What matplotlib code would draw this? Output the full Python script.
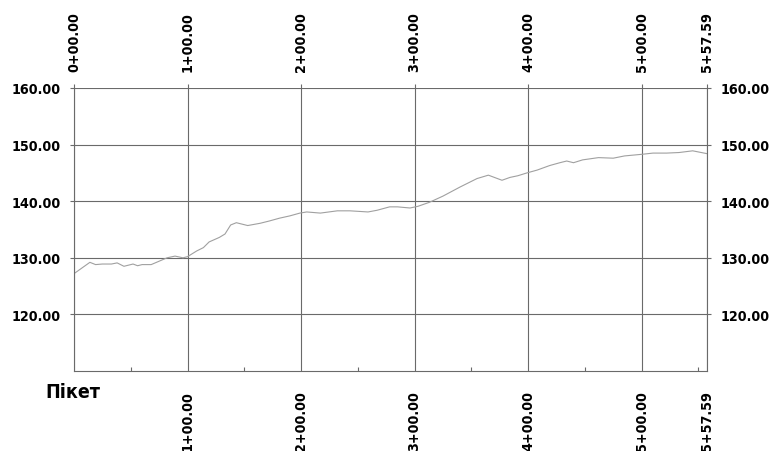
import numpy as np
import matplotlib
matplotlib.use("Agg")
import matplotlib.pyplot as plt
from matplotlib import font_manager

# longitudinal profile: chainage (m) vs ground elevation (m)
dist = [0, 7, 14, 19, 25, 33, 38, 44, 52, 56, 60, 68, 75, 82, 89, 96, 100,
        108, 114, 119, 128, 133, 138, 143, 153, 164, 172, 181, 190, 199, 205,
        217, 232, 243, 259, 267, 278, 285, 296, 303, 313, 325, 340, 355, 365,
        377, 384, 391, 399, 408, 419, 428, 434, 440, 448, 462, 475, 485, 501,
        510, 522, 533, 545, 557.59]
elev = [127.2, 128.2, 129.2, 128.8, 128.9, 128.9, 129.1, 128.5, 128.9, 128.6,
        128.8, 128.8, 129.4, 130.0, 130.3, 130.0, 130.2, 131.2, 131.8, 132.8,
        133.6, 134.2, 135.8, 136.2, 135.7, 136.1, 136.5, 137.0, 137.4, 137.9,
        138.1, 137.9, 138.3, 138.3, 138.1, 138.4, 139.0, 139.0, 138.8, 139.1,
        139.8, 140.9, 142.5, 144.0, 144.6, 143.7, 144.2, 144.5, 145.0, 145.5,
        146.3, 146.8, 147.1, 146.8, 147.3, 147.7, 147.6, 148.0, 148.3, 148.5,
        148.5, 148.6, 148.9, 148.4]

stations = [0, 100, 200, 300, 400, 500, 557.59]
station_labels = ["0+00.00", "1+00.00", "2+00.00", "3+00.00", "4+00.00",
                  "5+00.00", "5+57.59"]
levels = [120, 130, 140, 150, 160]
level_labels = ["%.2f" % v for v in levels]


def narrow_font():
    # look for a condensed sans face, else fall back to plain DejaVu
    cands = []
    for f in font_manager.fontManager.ttflist:
        nm = f.name.lower()
        fn = f.fname.lower()
        if ("cond" in fn or "narrow" in fn or "cond" in nm or "narrow" in nm
                or f.stretch in ("condensed", "semi-condensed")):
            if "mono" in fn or "serif" in fn and "sans" not in fn:
                continue
            if "italic" in fn or "oblique" in fn:
                continue
            cands.append(f)
    if not cands:
        return None

    def score(f):
        fn = f.fname.lower()
        w = f.weight if isinstance(f.weight, int) else 400
        return (0 if "bold" in fn and "semi" not in fn and "extra" not in fn else 1,
                -abs(w - 600))
    cands.sort(key=score)
    return font_manager.FontProperties(fname=cands[0].fname)


fp = narrow_font()
condensed = fp is not None
if not condensed:
    fp = font_manager.FontProperties(family="DejaVu Sans")
lab = 10.3 if condensed else 9.5

gridc = "#6a6a6a"
linec = "#a0a0a0"

fig = plt.figure(figsize=(7.71, 4.52), dpi=100)
ax = fig.add_axes([74/771, 1 - 372/452, (707 - 74)/771, (372 - 89)/452])

ax.plot(dist, elev, color=linec, lw=0.8)

ax.set_xlim(0, 557.59)
ax.set_ylim(110, 160)

for s in ["left", "right", "bottom"]:
    ax.spines[s].set_color(gridc)
    ax.spines[s].set_linewidth(0.8)
ax.spines["top"].set_visible(False)

# elevation labels on both sides
ax.set_yticks(levels)
ax.set_yticklabels(level_labels, fontproperties=fp, fontsize=lab)
ax.tick_params(axis="y", which="major", direction="out", length=3, width=0.8,
               color=gridc, left=True, right=True, labelleft=True,
               labelright=True, pad=6.5)
for v in levels:
    ax.axhline(v, color=gridc, lw=0.8, zorder=0)

# station gridlines
for s in stations:
    ax.axvline(s, color=gridc, lw=0.8, zorder=0)

# bottom: station labels, 50 m minor ticks inward
ax.set_xticks(stations[1:])
ax.set_xticklabels(station_labels[1:], rotation=90, va="top", ha="center",
                   fontproperties=fp, fontsize=lab)
ax.set_xticks(np.arange(50, 557, 50), minor=True)
ax.tick_params(axis="x", which="major", length=0, pad=14)
ax.tick_params(axis="x", which="minor", direction="in", length=3, width=0.8,
               color=gridc)

# top: all station labels
top = ax.twiny()
top.set_xlim(ax.get_xlim())
top.set_xticks(stations)
top.set_xticklabels(station_labels, rotation=90, va="bottom", ha="center",
                    fontproperties=fp, fontsize=lab)
top.tick_params(axis="x", direction="out", length=3, width=0.8, color=gridc,
                pad=9)
for s in ["left", "right", "top", "bottom"]:
    top.spines[s].set_visible(False)

fig.text(45/771, 1 - 383/452, "Пікет", fontproperties=fp,
         fontsize=14 if condensed else 12.5, va="top", ha="left")

fig.savefig("out.png", dpi=100, facecolor="white")
